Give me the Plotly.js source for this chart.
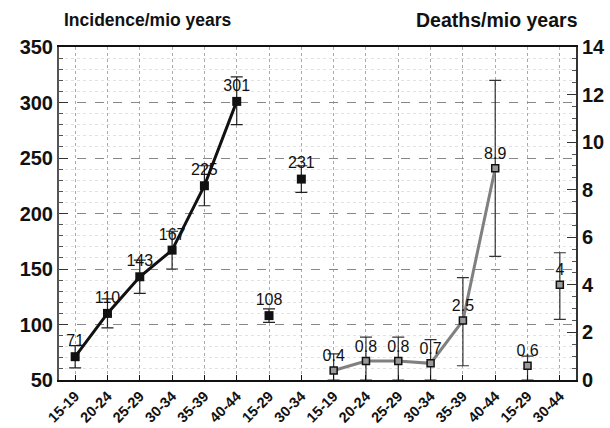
<!DOCTYPE html>
<html>
<head>
<meta charset="utf-8">
<script src="https://cdn.plot.ly/plotly-3.0.1.min.js"></script>
<style>html,body{margin:0;padding:0;background:#fff;}#chart{width:610px;height:428px;}</style>
</head>
<body>
<div id="chart"></div>
<script>
// Category labels along the x axis (16 positions)
const ageGroups = ['15-19','20-24','25-29','30-34','35-39','40-44','15-29','30-34',
                   '15-19','20-24','25-29','30-34','35-39','40-44','15-29','30-44'];

// Incidence per million years (left axis)
const incidenceTrend = [71, 110, 143, 167, 225, 301];      // positions 0-5
const incidenceTrendErrPlus = [10, 13, 15, 17, 18, 22];
const incidenceTrendErrMinus = [10, 13, 15, 17, 18, 21];
const incidenceGrouped = [108, 231];                        // positions 6-7
const incidenceGroupedErr = [6, 12];

// Deaths per million years (right axis)
const deathsTrend = [0.4, 0.8, 0.8, 0.7, 2.5, 8.9];        // positions 8-13
const deathsTrendErrPlus = [0.7, 1.0, 1.0, 1.0, 1.8, 3.7];
const deathsTrendErrMinus = [0.4, 0.8, 0.8, 0.7, 1.9, 3.7];
const deathsGrouped = [0.6, 4];                            // positions 14-15
const deathsGroupedErrPlus = [0.4, 1.35];
const deathsGroupedErrMinus = [0.6, 1.45];

const idx = ageGroups.map((_, i) => i);
const xIncTrend = idx.slice(0, 6);
const xIncGroup = idx.slice(6, 8);
const xDeathTrend = idx.slice(8, 14);
const xDeathGroup = idx.slice(14, 16);

const FONT = 'Liberation Sans, Arial, Helvetica, sans-serif';
const labelFont = {family: FONT, size: 16, color: '#111'};

const traces = [
  {
    x: xIncTrend, y: incidenceTrend, yaxis: 'y', type: 'scatter', mode: 'lines+markers+text',
    text: incidenceTrend.map(String), textposition: 'top center', textfont: labelFont,
    line: {color: '#111', width: 3},
    marker: {symbol: 'square', size: 9, color: '#111'},
    error_y: {type: 'data', symmetric: false, array: incidenceTrendErrPlus, arrayminus: incidenceTrendErrMinus,
              color: '#222', thickness: 1.2, width: 6},
    cliponaxis: false, showlegend: false
  },
  {
    x: xIncGroup, y: incidenceGrouped, yaxis: 'y', type: 'scatter', mode: 'markers+text',
    text: incidenceGrouped.map(String), textposition: 'top center', textfont: labelFont,
    marker: {symbol: 'square', size: 9, color: '#111'},
    error_y: {type: 'data', array: incidenceGroupedErr, color: '#222', thickness: 1.2, width: 6},
    cliponaxis: false, showlegend: false
  },
  {
    x: xDeathTrend, y: deathsTrend, yaxis: 'y2', type: 'scatter', mode: 'lines+markers+text',
    text: deathsTrend.map(String), textposition: 'top center', textfont: labelFont,
    line: {color: '#808080', width: 3},
    marker: {symbol: 'square', size: 7, color: '#9a9a9a', line: {color: '#111', width: 1.5}},
    error_y: {type: 'data', symmetric: false, array: deathsTrendErrPlus, arrayminus: deathsTrendErrMinus,
              color: '#333', thickness: 1.2, width: 6},
    cliponaxis: false, showlegend: false
  },
  {
    x: xDeathGroup, y: deathsGrouped, yaxis: 'y2', type: 'scatter', mode: 'markers+text',
    text: deathsGrouped.map(String), textposition: 'top center', textfont: labelFont,
    marker: {symbol: 'square', size: 7, color: '#9a9a9a', line: {color: '#111', width: 1.5}},
    error_y: {type: 'data', symmetric: false, array: deathsGroupedErrPlus, arrayminus: deathsGroupedErrMinus,
              color: '#333', thickness: 1.2, width: 6},
    cliponaxis: false, showlegend: false
  }
];

const tickFont = {family: FONT, size: 20, color: '#111', weight: 'bold'};

const layout = {
  width: 610, height: 428,
  margin: {l: 59, r: 34, t: 47, b: 48},
  paper_bgcolor: '#fff', plot_bgcolor: '#fff',
  font: {family: FONT, color: '#111'},
  xaxis: {
    range: [-0.5, 15.5], tickmode: 'array', tickvals: idx, ticktext: ageGroups,
    tickangle: -45, tickfont: {family: FONT, size: 14.5, color: '#111', weight: 'bold'},
    ticks: 'inside', ticklen: 5, tickcolor: '#111', ticklabelstandoff: 0,
    showline: true, linecolor: '#111', linewidth: 2, mirror: true,
    showgrid: true, gridcolor: '#aaa', griddash: 'dot', gridwidth: 1,
    zeroline: false, automargin: false, fixedrange: true
  },
  yaxis: {
    range: [50, 350], dtick: 50, tick0: 50, tickfont: tickFont,
    ticks: 'inside', ticklen: 9, tickcolor: '#333',
    minor: {dtick: 10, ticks: 'inside', ticklen: 4, tickcolor: '#555', showgrid: true, gridcolor: '#e2e2e2', griddash: 'dot'},
    showline: true, linecolor: '#555', linewidth: 2,
    showgrid: true, gridcolor: '#888', griddash: 'dash', gridwidth: 1,
    zeroline: false, automargin: false, fixedrange: true
  },
  yaxis2: {
    range: [0, 14], dtick: 2, tick0: 0, overlaying: 'y', side: 'right', tickfont: tickFont,
    ticks: 'inside', ticklen: 9, tickcolor: '#333',
    minor: {dtick: 0.5, ticks: 'inside', ticklen: 4, tickcolor: '#555'},
    showline: true, linecolor: '#333', linewidth: 2,
    showgrid: false, zeroline: false, automargin: false, fixedrange: true
  },
  annotations: [
    {text: 'Incidence/mio years', xref: 'paper', yref: 'paper', x: 0.006, y: 1.08,
     xanchor: 'left', yanchor: 'middle', showarrow: false,
     font: {family: FONT, size: 17.5, color: '#111', weight: 'bold'}},
    {text: 'Deaths/mio years', xref: 'paper', yref: 'paper', x: 1.008, y: 1.08,
     xanchor: 'right', yanchor: 'middle', showarrow: false,
     font: {family: FONT, size: 19.5, color: '#111', weight: 'bold'}}
  ]
};

Plotly.newPlot('chart', traces, layout, {displayModeBar: false, staticPlot: true});
</script>
</body>
</html>
